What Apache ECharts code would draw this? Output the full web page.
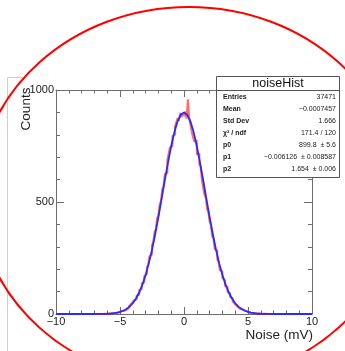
<!DOCTYPE html>
<html>
<head>
<meta charset="utf-8">
<script src="https://cdn.jsdelivr.net/npm/echarts@6/dist/echarts.min.js"></script>
<style>html,body{margin:0;padding:0;background:#fff;}#c{width:345px;height:351px;}</style>
</head>
<body>
<div id="c"></div>
<script>
// Histogram: 200 bins of width 0.1 from -10 to 10 (counts per bin)
var binLow = -10;
var binWidth = 0.1;
var counts = [
0,0,0,0,0,0,0,0,0,0, 0,0,0,0,0,0,0,0,0,0, 0,0,0,0,0,0,0,0,0,0, 0,0,0,0,0,
1,0,0,1,1,1,1,2,3,3,4,4,6,6,9,9,13,13,18,19,25,26,35,37,47,49,62,66,82,86,
106,112,136,141,170,178,210,219,258,266,308,320,366,378,428,440,490,505,556,570,
625,630,688,690,744,748,795,800,838,840,875,862,898,880,890,
884,905,872,958,880,846,815,790,770,775,712,716,668,656,596,598,532,520,470,455,
412,398,348,336,290,283,244,232,196,190,160,152,126,120,98,93,76,71,56,54,
43,40,31,29,22,21,16,15,11,10,8,7,5,5,4,3,2,2,2,1,1,1,0,1,0,
0,0,0,0,0,0,0,0,0,0, 0,0,0,0,0,0,0,0,0,0, 0,0,0,0,0,0,0,0,0,0, 0,0,0,0,0
];
// Fit curve samples (x, y)
var fitX = [-10,-7,-6.75,-6.5,-6.25,-6,-5.75,-5.5,-5.25,-5,-4.75,-4.5,-4.25,-4,-3.75,-3.5,-3.25,-3,-2.75,-2.5,-2.25,-2,-1.75,-1.5,-1.25,-1,-0.75,-0.5,-0.25,
0,0.25,0.5,0.75,1,1.25,1.5,1.75,2,2.25,2.5,2.75,3,3.25,3.5,3.75,4,4.25,4.5,4.75,5,5.25,5.5,5.75,6,6.25,6.5,6.75,7,10];
var fitY = [0,0.1,0.2,0.4,0.7,1.2,2.1,3.6,5.8,9.3,14.6,22,33,48,69,96,131,174,226,287,357,433,514,597,676,750,812,860,890,
900,890,860,812,750,676,597,514,433,357,287,226,174,131,96,69,48,33,22,14.6,9.3,5.8,3.6,2.1,1.2,0.7,0.4,0.2,0.1,0];
// Axis ticks
var xTicks = [-10,-5,0,5,10];
var yTicks = [0,500,1000];
// Stats box
var statNames = ['Entries','Mean','Std Dev','\u03c7\u00b2 / ndf','p0','p1','p2'];
var statValues = ['37471','\u22120.0007457','1.666','171.4 / 120','899.8  \u00b1 5.6','\u22120.006126  \u00b1 0.008587','1.654  \u00b1 0.006'];

var histData = counts.map(function(v,i){ return [binLow + binWidth*(i+0.5), v]; });
var fitData = fitX.map(function(x,i){ return [x, fitY[i]]; });

var chart = echarts.init(document.getElementById('c'), null, {renderer:'canvas'});
var axisColor = '#6e6e6e';
var font = 'Liberation Sans, Arial, Helvetica, sans-serif';
function fmt(v){ return (v<0?'\u2212':'') + Math.abs(v); }

var graphics = [];
// faint pad border at left
graphics.push({type:'line', shape:{x1:7.5,y1:77.5,x2:7.5,y2:351}, style:{stroke:'#cfcfcf',lineWidth:1}, z:1});
graphics.push({type:'line', shape:{x1:7.5,y1:77.5,x2:22,y2:77.5}, style:{stroke:'#cfcfcf',lineWidth:1}, z:1});
// axis titles
graphics.push({type:'text', x:26, y:109, rotation:Math.PI/2, style:{text:'Counts', font:'13.5px '+font, fill:'#222', align:'center', verticalAlign:'middle'}, z:10});
graphics.push({type:'text', x:313, y:335, style:{text:'Noise (mV)', font:'13.5px '+font, fill:'#222', align:'right', verticalAlign:'middle'}, z:10});
// stats box
graphics.push({type:'rect', shape:{x:216.5,y:76.5,width:123,height:101}, style:{fill:'#fff',stroke:'#555',lineWidth:1}, z:20});
graphics.push({type:'line', shape:{x1:216.5,y1:90.5,x2:339.5,y2:90.5}, style:{stroke:'#555',lineWidth:1}, z:21});
graphics.push({type:'text', x:278, y:84, style:{text:'noiseHist', font:'12.5px '+font, fill:'#111', align:'center', verticalAlign:'middle'}, z:21});
statNames.forEach(function(n,i){
  var y = 97 + i*12;
  graphics.push({type:'text', x:223, y:y, style:{text:n, font:'bold 7px '+font, fill:'#222', align:'left', verticalAlign:'middle'}, z:21});
  graphics.push({type:'text', x:336, y:y, style:{text:statValues[i], font:'7px '+font, fill:'#222', align:'right', verticalAlign:'middle'}, z:21});
});
// red annotation ellipse
graphics.push({type:'ellipse', shape:{cx:189,cy:195,rx:211,ry:188}, style:{fill:null,stroke:'#ff0000',lineWidth:2}, z:50});

function axisLineCfg(){ return {show:true,onZero:false,lineStyle:{color:axisColor,width:1}}; }

chart.setOption({
  animation:false,
  backgroundColor:'#fff',
  grid:{left:56,right:33,top:90,bottom:37,containLabel:false},
  xAxis:[
    {type:'value', min:-10, max:10, interval:5, position:'bottom', axisLine:axisLineCfg(), splitLine:{show:false},
      axisTick:{show:true,inside:true,length:7,lineStyle:{color:axisColor}},
      minorTick:{show:true,splitNumber:5,length:3.5,lineStyle:{color:axisColor}},
      axisLabel:{show:true,margin:2,color:'#222',fontSize:11,fontFamily:font,formatter:function(v){return xTicks.indexOf(v)>=0?fmt(v):'';}}
    },
    {type:'value', min:-10, max:10, interval:5, position:'top', axisLine:axisLineCfg(), splitLine:{show:false},
      axisTick:{show:true,inside:true,length:7,lineStyle:{color:axisColor}},
      minorTick:{show:true,splitNumber:5,length:3.5,lineStyle:{color:axisColor}},
      axisLabel:{show:false}
    }
  ],
  yAxis:[
    {type:'value', min:0, max:1000, interval:500, position:'left', axisLine:axisLineCfg(), splitLine:{show:false},
      axisTick:{show:true,inside:true,length:8,lineStyle:{color:axisColor}},
      minorTick:{show:true,splitNumber:5,length:4,lineStyle:{color:axisColor}},
      axisLabel:{show:true,margin:2,color:'#222',fontSize:11,fontFamily:font,formatter:function(v){return yTicks.indexOf(v)>=0?String(v):'';}}
    },
    {type:'value', min:0, max:1000, interval:500, position:'right', axisLine:axisLineCfg(), splitLine:{show:false},
      axisTick:{show:true,inside:true,length:8,lineStyle:{color:axisColor}},
      minorTick:{show:true,splitNumber:5,length:4,lineStyle:{color:axisColor}},
      axisLabel:{show:false}
    }
  ],
  series:[
    {type:'line', data:histData, step:'middle', showSymbol:false, symbol:'none',
     lineStyle:{color:'rgba(255,30,30,0.65)',width:2}, z:3, clip:true},
    {type:'line', data:fitData, showSymbol:false, symbol:'none', smooth:false,
     lineStyle:{color:'#2a2aff',width:1.8}, z:4, clip:true}
  ],
  graphic:graphics
});
</script>
</body>
</html>
